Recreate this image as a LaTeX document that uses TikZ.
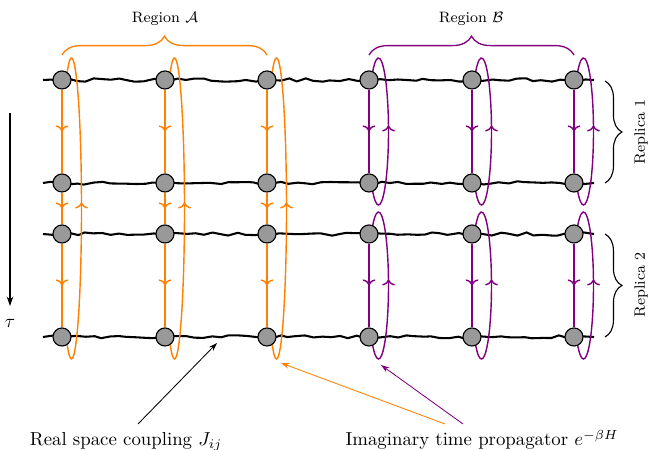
\documentclass[tikz,border=0pt]{standalone}
\usetikzlibrary{calc,decorations.pathmorphing,decorations.pathreplacing,decorations.markings,arrows.meta}
\pgfdeclarelayer{back}
\pgfdeclarelayer{mid}
\pgfsetlayers{back,mid,main}
\begin{document}
\begin{tikzpicture}[x=0.532pt,y=-0.532pt,
  site/.style={circle, draw=black, fill=black!40, line width=0.6pt, minimum size=9.6pt, inner sep=0pt},
  bond/.style={line width=1.1pt, line join=round, decorate, decoration={random steps, segment length=4.5pt, amplitude=0.9pt}},
  worldline/.style={line width=0.75pt},
  downmark/.style={postaction={decorate}, decoration={markings, mark=at position 0.5 with {\arrow{>}}}},
  upmark/.style={postaction={decorate}, decoration={markings, mark=at position 0.5 with {\arrow{<}}}},
  regionbrace/.style={line width=0.7pt, decorate, decoration={brace, amplitude=10pt}},
  replicabrace/.style={line width=0.6pt, decorate, decoration={brace, amplitude=9pt}},
  pointer/.style={line width=0.45pt, -{Stealth[length=4.5pt, width=3pt]}},
  label/.style={font=\normalsize, anchor=base}
]
\useasboundingbox (0,0) rectangle (649,450);
\pgfmathsetseed{2917}

% lattice sites: four imaginary-time slices, six spatial sites
\foreach \r/\y in {1/80,2/183,3/234,4/337} {
  \foreach \c/\x in {1/62,2/165,3/267,4/369,5/472,6/574} {
    \node[site] (n-\r-\c) at (\x,\y) {};
  }
  \coordinate (bl-\r) at (43,\y);
  \coordinate (br-\r) at (594,\y);
}

% spatial couplings
\begin{pgfonlayer}{back}
  \foreach \r in {1,...,4} \draw[bond] (bl-\r) -- (br-\r);
\end{pgfonlayer}

\begin{pgfonlayer}{mid}
  % region A: world lines run through both replicas
  \foreach \c in {1,2,3} {
    \draw[worldline, orange, downmark] (n-1-\c) -- (n-2-\c);
    \draw[worldline, orange, downmark] (n-2-\c) -- (n-3-\c);
    \draw[worldline, orange, downmark] (n-3-\c) -- (n-4-\c);
    % return branch: an elongated half ellipse beside the sites
    \coordinate (ca-\c) at ($(n-1-\c.center)!0.5!(n-4-\c.center) + (9.5,0)$);
    \draw[worldline, orange, upmark] ([shift={(-116:10 and 150.5)}]ca-\c)
      arc[start angle=-116, end angle=116, x radius=10, y radius=150.5];
  }
  % region B: each replica closes on itself
  \foreach \c in {4,5,6} {
    \foreach \a/\b in {1/2,3/4} {
      \draw[worldline, violet, downmark] (n-\a-\c) -- (n-\b-\c);
      \coordinate (cb-\a-\c) at ($(n-\a-\c.center)!0.5!(n-\b-\c.center) + (9.5,0)$);
      \draw[worldline, violet, upmark] ([shift={(-126:10 and 73.5)}]cb-\a-\c)
        arc[start angle=-126, end angle=126, x radius=10, y radius=73.5];
    }
  }
\end{pgfonlayer}

% region braces
\draw[regionbrace, orange] ([shift={(0,-25)}]n-1-1.center) -- ([shift={(0,-25)}]n-1-3.center);
\draw[regionbrace, violet] ([shift={(0,-25)}]n-1-4.center) -- ([shift={(0,-25)}]n-1-6.center);
\node[font=\footnotesize, anchor=base] (labA) at (165,23) {Region $\mathcal{A}$};
\node[font=\footnotesize, anchor=base] (labB) at (471,23) {Region $\mathcal{B}$};

% replica braces
\draw[replicabrace] ([shift={(31,1)}]n-1-6.center) -- ([shift={(31,0)}]n-2-6.center);
\draw[replicabrace] ([shift={(31,0)}]n-3-6.center) -- ([shift={(31,0)}]n-4-6.center);
\node[font=\footnotesize, rotate=90] (rep1) at (641,132) {Replica 1};
\node[font=\footnotesize, rotate=90] (rep2) at (641,285) {Replica 2};

% imaginary-time axis
\coordinate (tautop) at (10,113);
\coordinate (taubot) at (10,306);
\draw[line width=0.6pt, -{Stealth[length=5pt, width=3.5pt]}] (tautop) -- (taubot);
\node (tau) at (10,323) {$\tau$};

% annotations
\node[label] (lblJ) at (126,446) {Real space coupling $J_{ij}$};
\node[label] (lblP) at (482,446) {Imaginary time propagator $e^{-\beta H}$};
\coordinate (jfrom) at (138,424);
\coordinate (jto) at (217,343);
\coordinate (ofrom) at (445,424);
\coordinate (oto) at (281,363);
\coordinate (pfrom) at (463,424);
\coordinate (pto) at (381,365);
\draw[pointer, black] (jfrom) -- (jto);
\draw[pointer, orange] (ofrom) -- (oto);
\draw[pointer, violet] (pfrom) -- (pto);
\end{tikzpicture}
\end{document}
